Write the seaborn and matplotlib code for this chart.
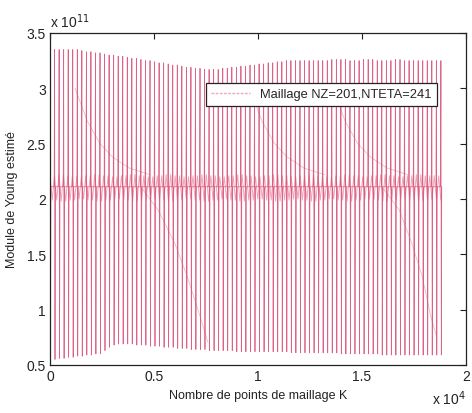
import numpy as np
import pandas as pd
import matplotlib
matplotlib.use("Agg")
import matplotlib.pyplot as plt
import seaborn as sns

# ---------------- data (units: x 1e4 points, y 1e11 Pa) ----
k_start, k_end = 0.0, 1.88          # first and last spike position (x 1e4)
core_level = 2.11                    # level the trace returns to between spikes
top_peaks = [3.35, 3.35, 3.35, 3.35, 3.35, 3.35, 3.35, 3.34, 3.33, 3.33,
             3.32, 3.32, 3.31, 3.30, 3.30, 3.29, 3.29, 3.28, 3.27, 3.27,
             3.26, 3.25, 3.25, 3.24, 3.23, 3.23, 3.22, 3.21, 3.21, 3.20,
             3.19, 3.19, 3.18, 3.18, 3.17, 3.17, 3.17, 3.17, 3.18, 3.18,
             3.19, 3.19, 3.20, 3.20, 3.21, 3.21, 3.22, 3.22, 3.23, 3.23,
             3.24, 3.24, 3.25, 3.25, 3.25, 3.25, 3.25, 3.25, 3.25, 3.25,
             3.25, 3.25, 3.26, 3.26, 3.26, 3.26, 3.25, 3.25, 3.25, 3.26,
             3.26, 3.26, 3.25, 3.25, 3.25, 3.25, 3.26, 3.26, 3.25, 3.25,
             3.25, 3.25, 3.25, 3.25, 3.25, 3.25, 3.25]
bottom_troughs = [0.55, 0.55, 0.56, 0.56, 0.57, 0.57, 0.58, 0.58, 0.59, 0.59,
                  0.60, 0.60, 0.63, 0.66, 0.68, 0.69, 0.69, 0.69, 0.69, 0.68,
                  0.68, 0.68, 0.67, 0.67, 0.67, 0.66, 0.66, 0.66, 0.65, 0.65,
                  0.65, 0.64, 0.64, 0.64, 0.64, 0.63, 0.63, 0.63, 0.63, 0.63,
                  0.63, 0.62, 0.62, 0.62, 0.62, 0.62, 0.62, 0.62, 0.62, 0.62,
                  0.62, 0.62, 0.62, 0.61, 0.61, 0.61, 0.61, 0.61, 0.61, 0.61,
                  0.61, 0.61, 0.61, 0.61, 0.60, 0.60, 0.60, 0.60, 0.60, 0.60,
                  0.60, 0.60, 0.60, 0.59, 0.59, 0.59, 0.59, 0.59, 0.59, 0.59,
                  0.59, 0.59, 0.59, 0.59, 0.59, 0.59, 0.59]
band_hi = [2.21, 2.22, 2.21, 2.20, 2.21, 2.22, 2.21, 2.20, 2.21, 2.22, 2.21,
           2.20, 2.21, 2.22, 2.21, 2.20, 2.21, 2.22, 2.21, 2.20, 2.21, 2.22,
           2.21, 2.20, 2.21, 2.22, 2.21, 2.20, 2.21, 2.22, 2.21, 2.20, 2.21,
           2.22, 2.21, 2.20, 2.21, 2.22, 2.21, 2.20, 2.21, 2.22, 2.21, 2.21]
band_lo = [1.99, 1.98, 1.99, 2.00, 1.99, 1.98, 1.99, 2.00, 1.99, 1.98, 1.99,
           2.00, 1.99, 1.98, 1.99, 2.00, 1.99, 1.98, 1.99, 2.00, 1.99, 1.98,
           1.99, 2.00, 1.99, 1.98, 1.99, 2.00, 1.99, 1.98, 1.99, 2.00, 1.99,
           1.98, 1.99, 2.00, 1.99, 1.98, 1.99, 2.00, 1.99, 1.98, 1.99, 1.99]
# decaying transients seen in the trace (K, value)
trans_up_k = [[0.12, 0.18, 0.24, 0.30, 0.38, 0.48],
              [0.96, 1.02, 1.08, 1.14, 1.22, 1.32],
              [1.36, 1.42, 1.48, 1.54, 1.62, 1.72]]
trans_up_v = [[3.00, 2.70, 2.50, 2.38, 2.28, 2.22],
              [3.00, 2.70, 2.50, 2.38, 2.28, 2.22],
              [3.00, 2.70, 2.50, 2.38, 2.28, 2.22]]
trans_dn_k = [[0.44, 0.52, 0.60, 0.66, 0.72, 0.76],
              [1.60, 1.68, 1.74, 1.79, 1.83, 1.86]]
trans_dn_v = [[2.10, 1.90, 1.60, 1.30, 0.95, 0.70],
              [2.10, 1.90, 1.60, 1.30, 0.95, 0.75]]

x_ticks = [0, 0.5, 1, 1.5, 2]
x_tick_labels = ["0", "0.5", "1", "1.5", "2"]
y_ticks = [0.5, 1, 1.5, 2, 2.5, 3, 3.5]
y_tick_labels = ["0.5", "1", "1.5", "2", "2.5", "3", "3.5"]
legend_label = "Maillage NZ=201,NTETA=241"

# ---------------- build tables ----------------
n = len(top_peaks)
k_spk = np.linspace(k_start, k_end, n)
eps = 0.002
kk_list, vv_list = [], []
for k, t, b in zip(k_spk, top_peaks, bottom_troughs):
    kk_list += [k - eps, k, k + eps, k + 2 * eps]
    vv_list += [core_level, t, b, core_level]
main = pd.DataFrame({"K": kk_list, "E": vv_list})

m = len(band_hi)
k_band = np.linspace(k_start, k_end, 4 * m)
v_band = np.empty(4 * m)
v_band[0::4] = band_hi
v_band[1::4] = band_lo
v_band[2::4] = band_hi
v_band[3::4] = band_lo
band = pd.DataFrame({"K": k_band, "E": v_band})

# ---------------- plot ----------------
sns.set_theme(style="white")
plt.rcParams["font.family"] = ["Liberation Sans", "DejaVu Sans"]

fig = plt.figure(figsize=(4.72, 4.14), dpi=100)
ax = fig.add_axes([0.106, 0.116, 0.881, 0.802])

col = "#d9527a"
sns.lineplot(data=band, x="K", y="E", ax=ax, sort=False, estimator=None,
             color="#f0a6ba", lw=0.7, legend=False)
for kk, vv in zip(trans_up_k, trans_up_v):
    sns.lineplot(x=kk, y=vv, ax=ax, sort=False, estimator=None, color=col,
                 lw=0.6, alpha=0.4, legend=False)
for kk, vv in zip(trans_dn_k, trans_dn_v):
    sns.lineplot(x=kk, y=vv, ax=ax, sort=False, estimator=None, color=col,
                 lw=0.6, alpha=0.4, legend=False)
sns.lineplot(data=main, x="K", y="E", ax=ax, sort=False, estimator=None,
             color=col, lw=0.55, alpha=0.9, legend=False)

ax.set_xlim(0, 2)
ax.set_ylim(0.5, 3.5)
ax.set_xticks(x_ticks)
ax.set_xticklabels(x_tick_labels)
ax.set_yticks(y_ticks)
ax.set_yticklabels(y_tick_labels)
ax.tick_params(direction="in", length=4, width=0.8, top=True, right=True,
               labelsize=10, colors="#222222", pad=3)
for s in ax.spines.values():
    s.set_color("#222222")
    s.set_linewidth(0.9)

ax.set_xlabel("Nombre de points de maillage K", fontsize=9, color="#222222", labelpad=4)
ax.set_ylabel("Module de Young estimé", fontsize=9, color="#222222", labelpad=6)

ax.text(0.0, 1.008, r"x 10$^{11}$", transform=ax.transAxes, fontsize=10,
        ha="left", va="bottom", color="#222222")
fig.text(0.988, 0.015, r"x 10$^{4}$", fontsize=10, ha="right", va="bottom",
         color="#222222")

handle = plt.Line2D([], [], color="#f2a8bb", lw=1.0, ls=(0, (2, 1)))
leg = ax.legend([handle], [legend_label], loc="upper right",
                bbox_to_anchor=(0.945, 0.868), fontsize=9.3, frameon=True,
                fancybox=False, borderpad=0.4, handlelength=3.0,
                framealpha=1.0, edgecolor="#222222")
leg.get_frame().set_linewidth(0.9)

fig.savefig("out.png", dpi=100, facecolor="white")
